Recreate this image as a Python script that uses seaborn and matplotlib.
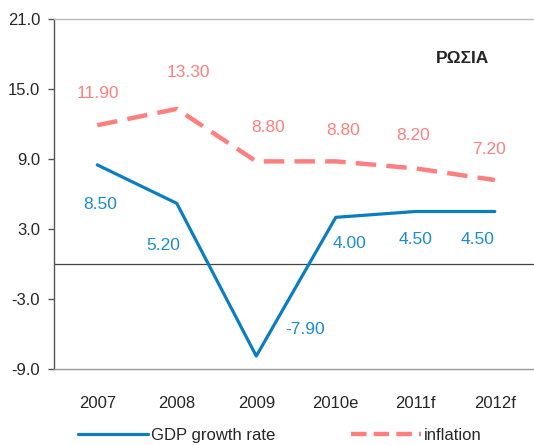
import pandas as pd
import matplotlib
matplotlib.use("Agg")
import matplotlib.pyplot as plt
import seaborn as sns

# data
years = ['2007', '2008', '2009', '2010e', '2011f', '2012f']
gdp = [8.50, 5.20, -7.90, 4.00, 4.50, 4.50]
inflation = [11.90, 13.30, 8.80, 8.80, 8.20, 7.20]
y_ticks = [-9.0, -3.0, 3.0, 9.0, 15.0, 21.0]

# label offsets in pixels (dx, dy)
gdp_off = [(3, -40), (-14, -42), (49, 27), (14, -26), (0, -28), (-17, -28)]
inf_off = [(1, 32), (12, 36), (12, 34), (7, 31), (-2, 33), (-6, 31)]

sns.set_style("white")
plt.rcParams['font.family'] = ['Liberation Sans', 'DejaVu Sans']

blue = '#0B7DC1'
blue_txt = '#1A8DD0'
pink = '#FF7F7F'

df = pd.DataFrame({'year': years, 'gdp': gdp, 'inflation': inflation})

fig = plt.figure(figsize=(5.34, 4.45), dpi=100)
ax = fig.add_axes([0.101, 0.171, 0.9, 0.786])

sns.lineplot(data=df, x='year', y='gdp', ax=ax, color=blue, lw=2.3,
             label='GDP growth rate', sort=False)
sns.lineplot(data=df, x='year', y='inflation', ax=ax, color=pink, lw=3.2,
             label='inflation', sort=False, dashes=False)
ax.lines[1].set_dashes((4.6, 2.3))

ax.axhline(0, color='#444444', lw=0.9, zorder=1)

px = 72 / 100
for i, v in enumerate(gdp):
    dx, dy = gdp_off[i]
    ax.annotate(f'{v:.2f}', (i, v), xytext=(dx * px, dy * px), textcoords='offset points',
                ha='center', va='center', fontsize=12.5, color=blue_txt)
for i, v in enumerate(inflation):
    dx, dy = inf_off[i]
    ax.annotate(f'{v:.2f}', (i, v), xytext=(dx * px, dy * px), textcoords='offset points',
                ha='center', va='center', fontsize=12.5, color=pink)

ax.set_xlim(-0.545, 5.5)
ax.set_ylim(-9, 21)
ax.set_yticks(y_ticks)
ax.set_yticklabels([f'{t:.1f}' for t in y_ticks], fontsize=12)
ax.tick_params(axis='y', left=True, length=4, width=1, color='#555555', pad=6)
ax.tick_params(axis='x', bottom=False, labelsize=12, pad=16)
ax.set_xlabel('')
ax.set_ylabel('')

ax.spines['left'].set_color('#555555')
ax.spines['top'].set_color('#bbbbbb')
ax.spines['bottom'].set_color('#999999')
ax.spines['right'].set_visible(False)
for s in ax.spines.values():
    s.set_linewidth(1)

ax.text(0.85, 0.887, 'ΡΩΣΙΑ', transform=ax.transAxes, fontsize=12.5,
        fontweight='bold', ha='center', va='center')

leg = ax.legend(loc='center', bbox_to_anchor=(0.47, -0.19), ncol=2, frameon=False,
                fontsize=12, handlelength=4.2, handletextpad=0.2, columnspacing=4.5)
leg.get_lines()[1].set_dashes((3.5, 1.6))

fig.savefig('out.png', dpi=100)
